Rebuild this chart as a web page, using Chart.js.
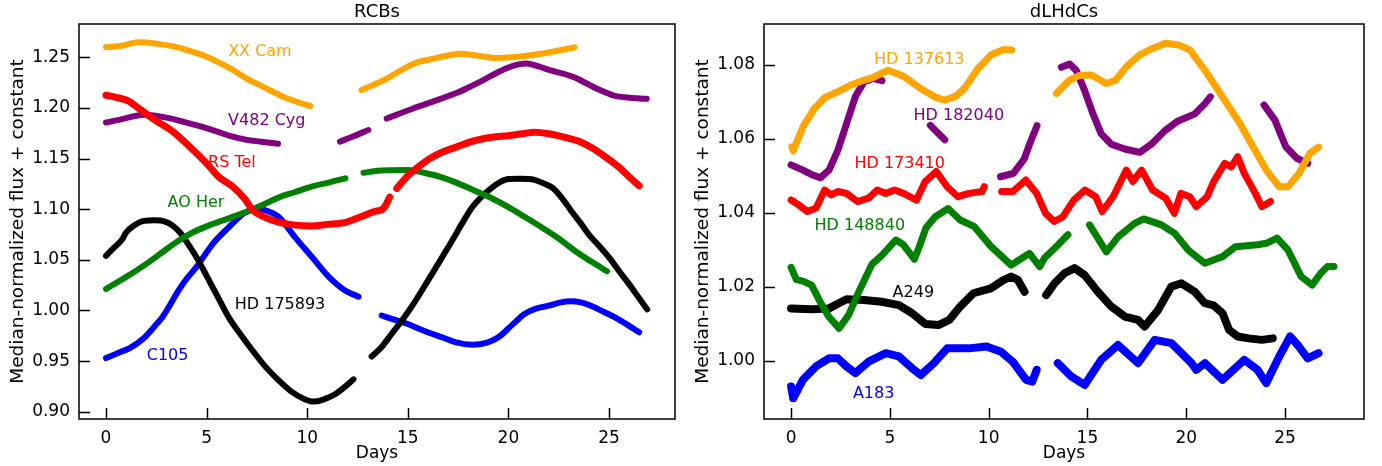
<!DOCTYPE html>
<html>
<head>
<meta charset="utf-8">
<title>RCBs and dLHdCs light curves</title>
<script src="https://cdn.jsdelivr.net/npm/chart.js@4.4.0/dist/chart.umd.min.js"></script>
<style>
    body { margin: 0; background: #ffffff; width: 1382px; height: 466px; overflow: hidden; position: relative; }
    canvas { position: absolute; top: 0; }
</style>
</head>
<body>
<canvas id="rcbChart" width="685" height="466" style="left:0"></canvas>
<canvas id="dlhdcChart" width="697" height="466" style="left:685px"></canvas>
<script>
// Light curves: days since start, median-normalized flux + constant
// null marks a gap in the observations

// ---- RCBs (left panel) ----
const xxCamDays = [0, 0.8, 1.6, 2.5, 3.4, 4.2, 5.0, 5.7, 6.3, 7.0, 7.8, 8.8, 9.5, 10.15, 11.4, 12.7, 13.4, 14.0, 14.6, 15.1, 15.6, 16.1, 16.8, 17.6, 18.5, 19.4, 20.2, 21.1, 22.2, 23.3];
const xxCamFlux = [1.2600, 1.2615, 1.2648, 1.2635, 1.2605, 1.2560, 1.2506, 1.2440, 1.2375, 1.2290, 1.2210, 1.2111, 1.2060, 1.2019, null, 1.2177, 1.2236, 1.2295, 1.2365, 1.2420, 1.2457, 1.2478, 1.2510, 1.2535, 1.2515, 1.2492, 1.2500, 1.2520, 1.2555, 1.2600];

const v482CygDays = [0, 0.8, 1.9, 2.6, 3.3, 4.0, 4.8, 5.5, 6.2, 7.0, 7.7, 8.55, 10, 11.63, 12.3, 13.04, 13.5, 13.95, 14.6, 15.2, 15.85, 16.7, 17.5, 18.2, 18.84, 19.5, 20.0, 20.5, 20.9, 21.5, 22.15, 22.7, 23.3, 24.0, 24.6, 25.2, 25.8, 26.4, 26.87];
const v482CygFlux = [1.1856, 1.1890, 1.1932, 1.1918, 1.1892, 1.1855, 1.1812, 1.1768, 1.1722, 1.1685, 1.1667, 1.1646, null, 1.1667, 1.1720, 1.1782, null, 1.1895, 1.1945, 1.1990, 1.2035, 1.2095, 1.2154, 1.2220, 1.2285, 1.2355, 1.2400, 1.2430, 1.2440, 1.2410, 1.2368, 1.2340, 1.2300, 1.2230, 1.2172, 1.2125, 1.2105, 1.2095, 1.2090];

const rsTelDays = [0, 0.5, 1.1, 1.7, 2.4, 3.3, 4.2, 5.0, 5.6, 6.3, 6.9, 7.3, 7.9, 8.6, 9.3, 10.2, 11.0, 11.9, 12.6, 13.3, 13.8, 14.1, 14.3, 14.45, 15.0, 15.5, 16.1, 16.7, 17.5, 18.3, 19.2, 20.0, 20.7, 21.3, 22.0, 22.8, 23.5, 24.1, 24.8, 25.5, 26.0, 26.5];
const rsTelFlux = [1.2125, 1.2105, 1.2070, 1.1985, 1.1885, 1.1770, 1.1610, 1.1453, 1.1320, 1.1222, 1.1100, 1.0990, 1.0920, 1.0870, 1.0845, 1.0835, 1.0850, 1.0870, 1.0920, 1.0975, 1.1010, 1.1120, null, 1.1205, 1.1330, 1.1414, 1.1500, 1.1562, 1.1620, 1.1676, 1.1710, 1.1726, 1.1745, 1.1760, 1.1745, 1.1710, 1.1670, 1.1611, 1.1520, 1.1414, 1.1320, 1.1230];

const aoHerDays = [0, 0.7, 1.4, 2.0, 2.8, 3.6, 4.4, 5.3, 6.1, 6.9, 7.8, 8.6, 9.4, 10.25, 11.1, 11.9, 12.35, 12.8, 13.4, 14.2, 15.0, 15.8, 16.7, 17.5, 18.3, 19.2, 20.0, 20.8, 21.65, 22.5, 23.3, 24.1, 24.9];
const aoHerFlux = [1.0212, 1.0295, 1.0380, 1.0460, 1.0575, 1.0689, 1.0780, 1.0854, 1.0910, 1.0969, 1.1045, 1.1117, 1.1170, 1.1226, 1.1265, 1.1305, null, 1.1360, 1.1378, 1.1385, 1.1387, 1.1360, 1.1315, 1.1255, 1.1185, 1.1105, 1.1020, 1.0925, 1.0821, 1.0710, 1.0590, 1.0485, 1.0387];

const hd175893Days = [0, 0.4, 0.8, 1.0, 1.4, 1.9, 2.4, 2.9, 3.3, 3.7, 4.1, 4.5, 4.9, 5.3, 5.7, 6.1, 6.7, 7.3, 7.9, 8.6, 9.2, 9.8, 10.3, 10.8, 11.4, 11.9, 12.3, 12.75, 13.2, 13.7, 14.2, 14.7, 15.3, 16.0, 16.6, 17.2, 17.7, 18.2, 18.7, 19.2, 19.6, 20.0, 20.6, 21.3, 21.8, 22.2, 22.7, 23.1, 23.6, 24.0, 24.5, 25.0, 25.5, 26.0, 26.5, 26.9];
const hd175893Flux = [1.0540, 1.0620, 1.0700, 1.0770, 1.0840, 1.0885, 1.0890, 1.0880, 1.0840, 1.0765, 1.0650, 1.0525, 1.0380, 1.0229, 1.0080, 0.9932, 0.9760, 0.9600, 0.9450, 0.9306, 0.9200, 0.9130, 0.9100, 0.9120, 0.9175, 0.9250, 0.9320, null, 0.9545, 0.9640, 0.9770, 0.9899, 1.0070, 1.0294, 1.0490, 1.0689, 1.0860, 1.1019, 1.1130, 1.1216, 1.1270, 1.1298, 1.1300, 1.1290, 1.1250, 1.1210, 1.1100, 1.0990, 1.0860, 1.0750, 1.0640, 1.0525, 1.0390, 1.0260, 1.0120, 1.0010];

const c105Days = [0, 0.6, 1.2, 1.9, 2.4, 2.8, 3.2, 3.6, 4.0, 4.5, 5.3, 6.1, 6.9, 7.5, 7.9, 8.6, 9.4, 10.25, 11.1, 11.9, 12.55, 13.1, 13.7, 14.4, 15.0, 15.8, 16.7, 17.4, 18.2, 18.9, 19.5, 20.2, 20.8, 21.4, 22.0, 22.6, 23.1, 23.6, 24.1, 24.7, 25.3, 25.9, 26.5];
const c105Flux = [0.9530, 0.9580, 0.9630, 0.9730, 0.9840, 0.9932, 1.0060, 1.0195, 1.0310, 1.0430, 1.0656, 1.0821, 1.0965, 1.1000, 1.0990, 1.0920, 1.0722, 1.0525, 1.0327, 1.0195, 1.0136, null, 0.9950, 0.9905, 0.9866, 0.9800, 0.9735, 0.9685, 0.9662, 0.9680, 0.9735, 0.9860, 0.9965, 1.0020, 1.0047, 1.0080, 1.0091, 1.0080, 1.0047, 0.9990, 0.9932, 0.9860, 0.9785];

// ---- dLHdCs (right panel) ----
const hd137613Days = [0.04, 0.11, 0.6, 1.15, 1.7, 2.37, 3.03, 3.58, 4.14, 4.91, 5.69, 6.57, 7.35, 7.79, 8.34, 8.78, 9.45, 10.11, 10.77, 11.17, 12.3, 13.43, 14.09, 14.6, 15.2, 15.97, 16.42, 16.97, 17.63, 18.3, 18.96, 19.62, 20.18, 20.95, 21.84, 22.72, 23.38, 24.05, 24.71, 25.15, 25.71, 26.26, 26.7];
const hd137613Flux = [1.0579, 1.0568, 1.0633, 1.0680, 1.0712, 1.0728, 1.0746, 1.0757, 1.0766, 1.0786, 1.0770, 1.0736, 1.0712, 1.0705, 1.0716, 1.0737, 1.0790, 1.0827, 1.0842, 1.0841, null, 1.0723, 1.0759, 1.0772, 1.0773, 1.0750, 1.0759, 1.0795, 1.0827, 1.0845, 1.0859, 1.0854, 1.0841, 1.0786, 1.0714, 1.0642, 1.0579, 1.0516, 1.0471, 1.0471, 1.0507, 1.0561, 1.0578];

const hd182040Days = [0.0, 0.6, 1.0, 1.48, 1.92, 2.37, 2.81, 3.25, 3.69, 4.14, 4.6, 5.8, 7.05, 7.4, 7.78, 9.2, 10.6, 11.25, 11.8, 12.1, 12.45, 13.0, 13.68, 14.1, 14.44, 14.86, 15.28, 15.7, 16.21, 16.89, 17.65, 18.24, 18.91, 19.59, 20.44, 20.94, 21.22, 22.5, 23.94, 24.49, 25.04, 25.6, 26.15];
const hd182040Flux = [1.0530, 1.0516, 1.0505, 1.0495, 1.0516, 1.0570, 1.0642, 1.0714, 1.0755, 1.0764, 1.0758, null, 1.0637, 1.0618, 1.0598, null, 1.0498, 1.0507, 1.0546, 1.0590, 1.0636, null, 1.0794, 1.0803, 1.0785, 1.0731, 1.0668, 1.0614, 1.0586, 1.0573, 1.0564, 1.0586, 1.0622, 1.0649, 1.0668, 1.0695, 1.0714, null, 1.0692, 1.0651, 1.0579, 1.0548, 1.0534];

const hd173410Days = [0.0, 0.38, 0.82, 1.26, 1.70, 2.04, 2.37, 2.81, 3.36, 3.92, 4.36, 4.8, 5.24, 5.69, 6.35, 6.79, 7.35, 7.9, 8.45, 9.0, 9.67, 9.78, 10.2, 10.66, 11.22, 11.88, 12.43, 12.88, 13.32, 13.76, 14.31, 14.87, 15.42, 15.75, 16.3, 16.97, 17.3, 17.74, 18.3, 18.96, 19.4, 19.73, 20.18, 20.51, 21.06, 21.39, 21.95, 22.28, 22.61, 22.94, 23.5, 23.83, 24.27];
const hd173410Flux = [1.0435, 1.0422, 1.0404, 1.0413, 1.0462, 1.0449, 1.0458, 1.0453, 1.0431, 1.0440, 1.0462, 1.0453, 1.0462, 1.0453, 1.0435, 1.0485, 1.0512, 1.0471, 1.0444, 1.0453, 1.0458, 1.0471, null, 1.0458, 1.0458, 1.0489, 1.0453, 1.0399, 1.0377, 1.0390, 1.0435, 1.0462, 1.0444, 1.0404, 1.0444, 1.0516, 1.0485, 1.0516, 1.0462, 1.0440, 1.0399, 1.0453, 1.0444, 1.0417, 1.0444, 1.0485, 1.0534, 1.0525, 1.0552, 1.0507, 1.0453, 1.0417, 1.0431];

const hd148840Days = [0, 0.27, 0.6, 1.04, 1.42, 1.9, 2.43, 2.92, 3.47, 4.1, 4.58, 5.31, 5.69, 6.24, 6.5, 6.83, 7.3, 7.95, 8.56, 9.28, 10.13, 11.14, 11.6, 12.07, 12.58, 12.83, 13.42, 14.01, 14.55, 15.11, 15.96, 16.56, 17.39, 17.85, 18.75, 19.42, 20.1, 20.94, 21.84, 22.5, 23.6, 24.05, 24.6, 25.15, 25.82, 26.37, 26.81, 27.15, 27.48];
const hd148840Flux = [1.0253, 1.0220, 1.0216, 1.0205, 1.0165, 1.0120, 1.0088, 1.0125, 1.0192, 1.0262, 1.0285, 1.0327, 1.0314, 1.0275, 1.0310, 1.0360, 1.0390, 1.0412, 1.0381, 1.0363, 1.0309, 1.0259, 1.0275, 1.0291, 1.0255, 1.0278, 1.0309, 1.0341, null, 1.0368, 1.0295, 1.0336, 1.0372, 1.0384, 1.0368, 1.0345, 1.0300, 1.0264, 1.0282, 1.0309, 1.0314, 1.0318, 1.0332, 1.0300, 1.0228, 1.0205, 1.0237, 1.0255, 1.0255];

const a249Days = [0, 1.04, 1.92, 2.81, 3.69, 4.58, 5.46, 6.13, 6.79, 7.46, 8.01, 8.56, 9.23, 10.11, 10.77, 11.14, 11.48, 11.82, 12.35, 12.91, 13.34, 13.84, 14.35, 14.86, 15.53, 16.21, 16.89, 17.56, 17.9, 18.58, 19.25, 19.76, 20.44, 20.94, 21.39, 21.84, 22.17, 22.61, 23.16, 23.83, 24.38];
const a249Flux = [1.0142, 1.0140, 1.0142, 1.0167, 1.0165, 1.0160, 1.0151, 1.0129, 1.0100, 1.0097, 1.0111, 1.0147, 1.0183, 1.0196, 1.0219, 1.0228, 1.0219, 1.0187, null, 1.0178, 1.0210, 1.0237, 1.0251, 1.0232, 1.0187, 1.0147, 1.0120, 1.0111, 1.0093, 1.0138, 1.0201, 1.0210, 1.0187, 1.0156, 1.0150, 1.0129, 1.0084, 1.0066, 1.0061, 1.0057, 1.0061];

const a183Days = [0, 0.11, 0.6, 1.26, 1.92, 2.37, 2.81, 3.25, 3.92, 4.8, 5.46, 6.13, 6.57, 7.23, 7.9, 9.0, 9.89, 10.63, 11.22, 11.77, 11.9, 12.21, 12.43, 12.95, 13.5, 14.18, 14.86, 15.7, 16.55, 17.56, 18.41, 19.25, 20.27, 20.51, 20.95, 21.84, 22.94, 23.61, 24.05, 24.71, 25.26, 25.71, 26.15, 26.7];
const a183Flux = [0.9931, 0.9899, 0.9949, 0.9985, 1.0007, 1.0007, 0.9985, 0.9967, 0.9998, 1.0021, 1.0012, 0.9980, 0.9962, 0.9994, 1.0034, 1.0034, 1.0039, 1.0025, 0.9998, 0.9958, 0.9949, 0.9944, 0.9976, null, 0.9994, 0.9958, 0.9935, 1.0003, 1.0043, 0.9994, 1.0057, 1.0048, 0.9994, 0.9976, 0.9994, 0.9949, 1.0003, 0.9976, 0.9940, 1.0012, 1.0066, 1.0039, 1.0007, 1.0021];

// axis tick labels
const dayTicks = [0, 5, 10, 15, 20, 25];
const rcbFluxTicks = [0.90, 0.95, 1.00, 1.05, 1.10, 1.15, 1.20, 1.25];
const dlhdcFluxTicks = [1.00, 1.02, 1.04, 1.06, 1.08];

const COLORS = {
    orange: "#ffa500", purple: "#800080", red: "#ff0000",
    green: "#008000", black: "#000000", blue: "#0000ff"
};
const FONT = "'DejaVu Sans', sans-serif";
Chart.defaults.font.family = FONT;
Chart.defaults.color = "#000";

function toPoints(days, flux) {
    return days.map((d, i) => ({ x: d, y: flux[i] }));
}

function series(days, flux, color, width, smooth) {
    return {
        data: toPoints(days, flux),
        borderColor: color,
        backgroundColor: color,
        borderWidth: width,
        pointRadius: 0,
        borderCapStyle: "round",
        borderJoinStyle: "round",
        cubicInterpolationMode: smooth ? "monotone" : "default",
        tension: 0,
        spanGaps: false
    };
}

// frame around the plot, inward tick marks, panel title and the star names
const framePlugin = {
    id: "frame",
    afterDatasetsDraw(chart, args, opts) {
        const { ctx, chartArea: a, scales } = chart;
        const x = scales.x, y = scales.y;
        ctx.save();
        ctx.strokeStyle = "#000";
        ctx.lineWidth = 1.5;
        ctx.strokeRect(a.left, a.top, a.right - a.left, a.bottom - a.top);
        ctx.beginPath();
        x.ticks.forEach(t => {
            const px = Math.round(x.getPixelForValue(t.value)) + 0.5;
            ctx.moveTo(px, a.bottom);
            ctx.lineTo(px, a.bottom - 11);
        });
        y.ticks.forEach(t => {
            const py = Math.round(y.getPixelForValue(t.value)) + 0.5;
            ctx.moveTo(a.left, py);
            ctx.lineTo(a.left + 11, py);
        });
        ctx.stroke();

        // panel title centred over the axes
        ctx.fillStyle = "#000";
        ctx.font = "18px " + FONT;
        ctx.textAlign = "center";
        ctx.textBaseline = "middle";
        ctx.fillText(opts.title, (a.left + a.right) / 2, a.top - 12);

        ctx.font = "16px " + FONT;
        (opts.labels || []).forEach(l => {
            ctx.fillStyle = l.color;
            ctx.fillText(l.text, x.getPixelForValue(l.day), y.getPixelForValue(l.flux));
        });
        ctx.restore();
    }
};

function makePanel(canvasId, title, datasets, xMin, xMax, yMin, yMax, yTicks, decimals, labels, padRight) {
    new Chart(document.getElementById(canvasId), {
        type: "line",
        data: { datasets: datasets },
        options: {
            responsive: false,
            animation: false,
            layout: { padding: { left: 0, right: padRight, top: 24, bottom: 0 } },
            plugins: {
                legend: { display: false },
                tooltip: { enabled: false },
                title: { display: false },
                frame: { labels: labels, title: title }
            },
            scales: {
                x: {
                    type: "linear",
                    min: xMin,
                    max: xMax,
                    grid: { display: false },
                    border: { display: false },
                    afterBuildTicks: s => { s.ticks = dayTicks.map(v => ({ value: v })); },
                    afterFit: s => { s.height = 47; },
                    ticks: {
                        color: "#000",
                        padding: 1,
                        font: { family: FONT, size: 17 },
                        callback: v => String(v)
                    },
                    title: {
                        display: true,
                        text: "Days",
                        color: "#000",
                        font: { family: FONT, size: 17, weight: "normal" },
                        padding: { top: 0, bottom: 2 }
                    }
                },
                y: {
                    type: "linear",
                    min: yMin,
                    max: yMax,
                    grid: { display: false },
                    border: { display: false },
                    afterBuildTicks: s => { s.ticks = yTicks.map(v => ({ value: v })); },
                    afterFit: s => { s.width = 79; },
                    ticks: {
                        color: "#000",
                        padding: 1,
                        font: { family: FONT, size: 17 },
                        callback: v => Number(v).toFixed(decimals)
                    },
                    title: {
                        display: true,
                        text: "Median-normalized flux + constant",
                        color: "#000",
                        font: { family: FONT, size: 18.5, weight: "normal" },
                        padding: { top: 7, bottom: 0 }
                    }
                }
            }
        },
        plugins: [framePlugin]
    });
}

// first dataset is drawn on top
makePanel("rcbChart", "RCBs", [
    series(rsTelDays, rsTelFlux, COLORS.red, 7, true),
    series(aoHerDays, aoHerFlux, COLORS.green, 6, true),
    series(hd175893Days, hd175893Flux, COLORS.black, 6, true),
    series(c105Days, c105Flux, COLORS.blue, 6, true),
    series(v482CygDays, v482CygFlux, COLORS.purple, 6, true),
    series(xxCamDays, xxCamFlux, COLORS.orange, 6, true)
], -1.342, 28.28, 0.8928, 1.2829, rcbFluxTicks, 2, [
    { text: "XX Cam", day: 7.65, flux: 1.2552, color: COLORS.orange },
    { text: "V482 Cyg", day: 7.99, flux: 1.1871, color: COLORS.purple },
    { text: "RS Tel", day: 6.26, flux: 1.1456, color: COLORS.red },
    { text: "AO Her", day: 4.47, flux: 1.1061, color: COLORS.green },
    { text: "HD 175893", day: 8.65, flux: 1.0054, color: COLORS.black },
    { text: "C105", day: 3.06, flux: 0.9550, color: COLORS.blue }
], 10);

makePanel("dlhdcChart", "dLHdCs", [
    series(hd137613Days, hd137613Flux, COLORS.orange, 7, false),
    series(hd182040Days, hd182040Flux, COLORS.purple, 7, false),
    series(hd173410Days, hd173410Flux, COLORS.red, 7, false),
    series(hd148840Days, hd148840Flux, COLORS.green, 7, false),
    series(a249Days, a249Flux, COLORS.black, 8, false),
    series(a183Days, a183Flux, COLORS.blue, 8, false)
], -1.37, 29.0, 0.9843, 1.0911, dlhdcFluxTicks, 2, [
    { text: "HD 137613", day: 6.49, flux: 1.0814, color: COLORS.orange },
    { text: "HD 182040", day: 8.49, flux: 1.0662, color: COLORS.purple },
    { text: "HD 173410", day: 5.50, flux: 1.0532, color: COLORS.red },
    { text: "HD 148840", day: 3.48, flux: 1.0365, color: COLORS.green },
    { text: "A249", day: 6.19, flux: 1.0185, color: COLORS.black },
    { text: "A183", day: 4.18, flux: 0.9911, color: COLORS.blue }
], 18);
</script>
</body>
</html>
